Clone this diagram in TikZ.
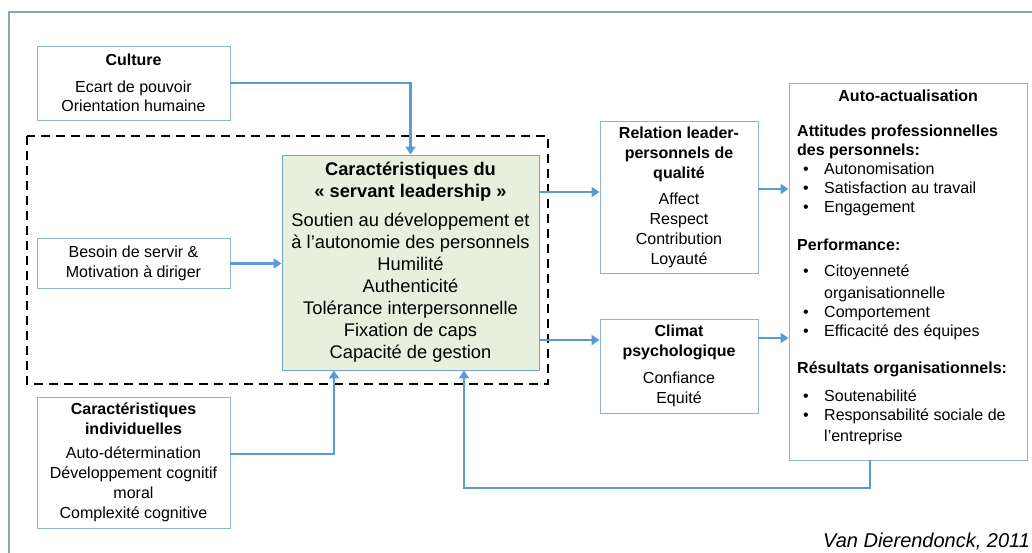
\documentclass[tikz,border=0pt]{standalone}
\usepackage{fontspec}
\setmainfont{Liberation Sans}
\usetikzlibrary{arrows.meta,calc}
\definecolor{arrowblue}{HTML}{5B9BD5}
\definecolor{boxline}{HTML}{8DB3D9}
\definecolor{centerfill}{HTML}{E7EFDD}
\definecolor{centerline}{HTML}{6FA2D6}
\definecolor{framecol}{HTML}{8AA4BE}
\newcommand\sdfont{\fontsize{16}{19.5}\selectfont}
\newcommand\ctfont{\fontsize{18.3}{22}\selectfont}
\begin{document}
\begin{tikzpicture}[x=1pt,y=-1pt,
  box/.style={draw=boxline, line width=0.9pt, fill=white, inner sep=0pt, align=center, font=\sdfont},
  arr/.style={draw=arrowblue, line width=2.3pt, -{Triangle[length=8pt,width=10pt]}},
  dashbox/.style={draw=black, line width=2.3pt, dash pattern=on 9pt off 6pt}]
\clip (0,0) rectangle (1032,552);
\fill[white] (0,0) rectangle (1032,552);
% outer frame
\draw[framecol, line width=1.2pt] (9,12) rectangle (1050,570);
% dashed zone
\draw[dashbox] (27,136) rectangle (548,384);

% boxes
\node[box, minimum width=193pt, minimum height=74pt] (culture) at (133.5,83)
  {\textbf{Culture}\\[7.5pt]Ecart de pouvoir\\Orientation humaine};
\node[box, minimum width=193pt, minimum height=50pt] (besoin) at (133.5,263.5)
  {Besoin de servir \&\\Motivation à diriger};
\node[box, minimum width=193pt, minimum height=131pt, font=\fontsize{16}{20}\selectfont] (indiv) at (133.5,462.5)
  {\textbf{Caractéristiques}\\\textbf{individuelles}\\[4pt]Auto-détermination\\Développement cognitif\\moral\\Complexité cognitive};
\node[box, draw=centerline, fill=centerfill, minimum width=257pt, minimum height=215pt, font=\ctfont] (center) at (410.5,262.5)
  {\textbf{Caractéristiques du}\\\textbf{«~servant leadership~»}\\[7pt]Soutien au développement et\\à l’autonomie des personnels\\Humilité\\Authenticité\\Tolérance interpersonnelle\\Fixation de caps\\Capacité de gestion};
\node[box, minimum width=158pt, minimum height=152pt, font=\fontsize{16}{20}\selectfont] (relation) at (679,197)
  {\textbf{Relation leader-}\\\textbf{personnels de}\\\textbf{qualité}\\[6pt]Affect\\Respect\\Contribution\\Loyauté};
\node[box, minimum width=158pt, minimum height=94pt, font=\fontsize{16}{20}\selectfont] (climat) at (679,366)
  {\textbf{Climat}\\\textbf{psychologique}\\[7pt]Confiance\\Equité};
\node[box, minimum width=238pt, minimum height=377pt] (auto) at (908,271.5) {};
\node[anchor=north west, inner sep=0pt, align=left, font=\fontsize{16}{19}\selectfont] (autotxt) at (797,90)
  {\makebox[222pt][c]{\textbf{Auto-actualisation}}\\[16pt]
   \textbf{Attitudes professionnelles}\\
   \textbf{des personnels:}\\
   \makebox[27pt][l]{\hspace{6pt}•}Autonomisation\\
   \makebox[27pt][l]{\hspace{6pt}•}Satisfaction au travail\\
   \makebox[27pt][l]{\hspace{6pt}•}Engagement\\[19pt]
   \textbf{Performance:}\\[7pt]
   \makebox[27pt][l]{\hspace{6pt}•}Citoyenneté\\[3pt]
   \makebox[27pt][l]{}organisationnelle\\
   \makebox[27pt][l]{\hspace{6pt}•}Comportement\\
   \makebox[27pt][l]{\hspace{6pt}•}Efficacité des équipes\\[18pt]
   \textbf{Résultats organisationnels:}\\[9pt]
   \makebox[27pt][l]{\hspace{6pt}•}Soutenabilité\\
   \makebox[27pt][l]{\hspace{6pt}•}Responsabilité sociale de\\[2pt]
   \makebox[27pt][l]{}l’entreprise};
\node[anchor=base west, inner sep=0pt, font=\fontsize{20}{22}\selectfont\itshape] (cite) at (823,547) {Van Dierendonck, 2011};

% helper coordinates
\coordinate (yr1) at (0,192);
\coordinate (yr2) at (0,340);
\coordinate (ya1) at (0,189);
\coordinate (ya2) at (0,338);
\coordinate (yind) at (0,454);
\coordinate (xind) at (334,0);
\coordinate (fbx) at (870,488);
\coordinate (fby) at (464,488);

% connectors
\draw[arr] (culture.east) -| (center.north);
\draw[arr] (besoin.east) -- (besoin.east -| center.west);
\draw[arr] (indiv.east |- yind) -| (xind |- center.south);
\draw[arr] (auto.south -| fbx) -- (fbx) -- (fby) -- (fby |- center.south);
\draw[arr] (center.east |- yr1) -- (relation.west |- yr1);
\draw[arr] (center.east |- yr2) -- (climat.west |- yr2);
\draw[arr] (relation.east |- ya1) -- (auto.west |- ya1);
\draw[arr] (climat.east |- ya2) -- (auto.west |- ya2);
\end{tikzpicture}
\end{document}
